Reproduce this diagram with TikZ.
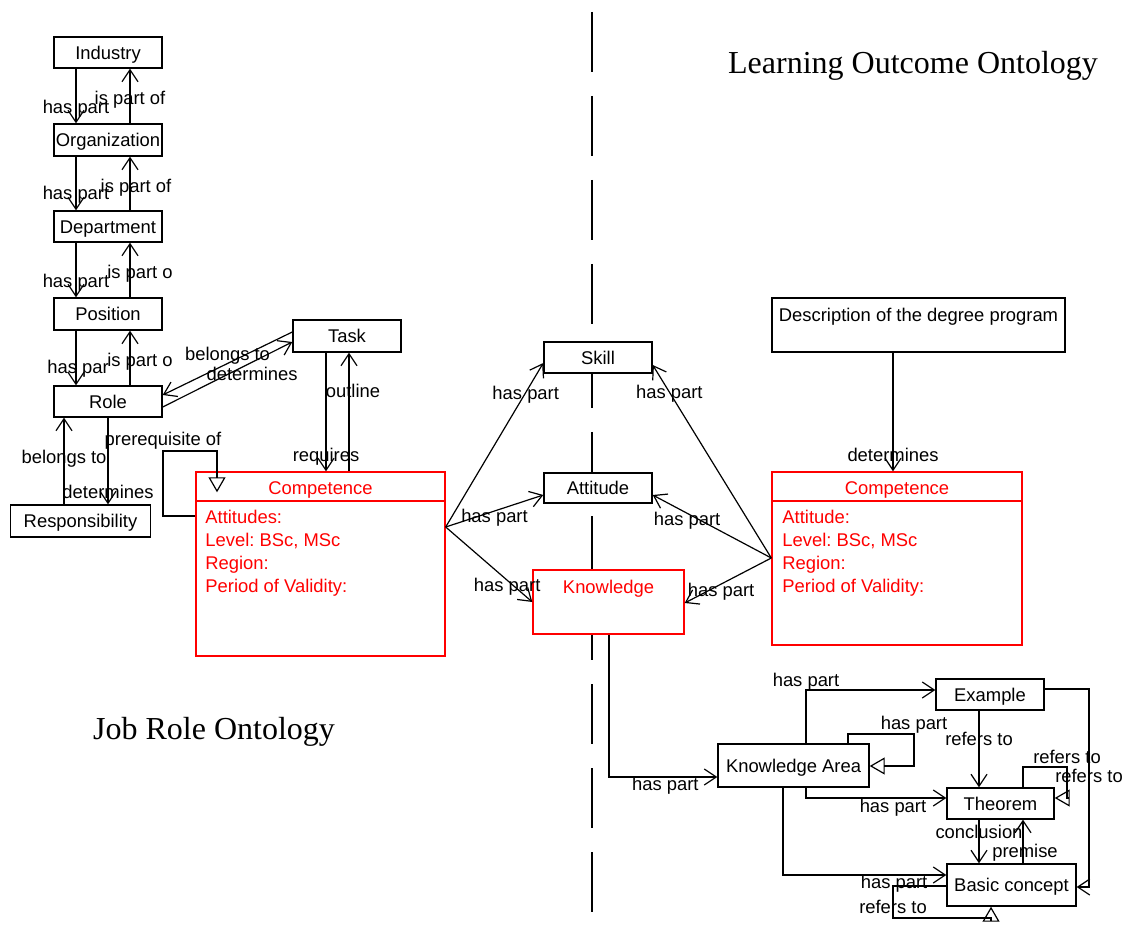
\documentclass[tikz,border=0pt]{standalone}
\usepackage{fontspec}
\setmainfont{Liberation Sans}
\newfontfamily\titlefont{Liberation Serif}
\usepackage{tikz}
\usetikzlibrary{positioning, calc, arrows.meta}
\frenchspacing

\begin{document}
\begin{tikzpicture}[
    x=0.5pt, y=-0.5pt,
    font=\fontsize{9.2}{11.5}\selectfont,
    text_fix/.style={text height=6.6pt, text depth=0pt},
    concept/.style={rectangle, draw, fill=white, line width=0.7pt, inner sep=0pt, minimum width=54pt, minimum height=15.5pt, text_fix},
    red_concept/.style={concept, draw=red, text=red},
    rel_arrow/.style={-{Straight Barb[length=6pt, width=8pt]}, line width=0.6pt},
    self_arrow/.style={-{Triangle[open, length=7.5pt, width=8.5pt]}, line width=0.6pt},
    label_style/.style={inner sep=0pt, text_fix},
    attr_style/.style={text=red, anchor=north west, align=left, inner sep=0pt},
    title_style/.style={font=\titlefont\fontsize{16}{19}\selectfont},
    divider/.style={line width=0.8pt, dash pattern=on 30pt off 12pt}
]
    \useasboundingbox (0,0) rectangle (1122,929);

    % Trennlinie zwischen den Ontologien
    \draw[divider] (592,12) -- (592,929);

    % Job Role Ontology
    \node[concept] (industry) at (108,52.5) {Industry};
    \node[concept, minimum height=16pt] (organization) at (108,140) {Organization};
    \node[concept] (department) at (108,226.5) {Department};
    \node[concept, minimum height=16pt] (position) at (108,314) {Position};
    \node[concept] (role) at (108,401.5) {Role};
    \node[concept, minimum width=70pt, minimum height=16pt] (responsibility) at (80.5,521) {Responsibility};
    \node[concept, minimum height=16pt] (task) at (347,336) {Task};

    \node[red_concept, minimum width=124.5pt, minimum height=92pt] (compL) at (320.5,564) {};
    \draw[red, line width=0.7pt] (compL.north west |- 0,501) -- (compL.north east |- 0,501);
    \node[text=red, text_fix] (compLName) at (320.5,488) {Competence};
    \node[attr_style] (compLAttr) at (205,510) {Attitudes:\\Level: BSc, MSc\\Region:\\Period of Validity:};

    % Mitte
    \node[concept] (skill) at (598,357.5) {Skill};
    \node[concept, minimum height=15pt] (attitude) at (598,488) {Attitude};
    \node[red_concept, minimum width=75.5pt, minimum height=32pt] (knowledge) at (608.5,602) {};
    \node[text=red, text_fix] (knowledgeName) at (608.5,587) {Knowledge};

    % Learning Outcome Ontology
    \node[concept, minimum width=146.5pt, minimum height=27pt] (degree) at (918.5,325) {};
    \node[text_fix] (degreeName) at (918.5,315) {Description of the degree program};
    \node[red_concept, minimum width=125pt, minimum height=86.5pt] (compR) at (897,558.5) {};
    \draw[red, line width=0.7pt] (compR.north west |- 0,501) -- (compR.north east |- 0,501);
    \node[text=red, text_fix] (compRName) at (897,488) {Competence};
    \node[attr_style] (compRAttr) at (782,510) {Attitude:\\Level: BSc, MSc\\Region:\\Period of Validity:};

    \node[concept, minimum width=75.5pt, minimum height=21.5pt] (karea) at (793.5,765.5) {Knowledge Area};
    \node[concept] (example) at (990,694.5) {Example};
    \node[concept, minimum width=53.5pt] (theorem) at (1000.5,803.5) {Theorem};
    \node[concept, minimum width=64.5pt, minimum height=21pt] (basic) at (1011.5,885) {Basic concept};

    % Titel
    \node[title_style] (learningTitle) at (913,66) {Learning Outcome Ontology};
    \node[title_style] (jobTitle) at (214,732) {Job Role Ontology};

    % has part / is part of
    \draw[rel_arrow] (industry.south -| 76,0) -- node[label_style, pos=0.7] {has part} (organization.north -| 76,0);
    \draw[rel_arrow] (organization.north -| 130,0) -- node[label_style, pos=0.46] {is part of} (industry.south -| 130,0);
    \draw[rel_arrow] (organization.south -| 76,0) -- node[label_style, pos=0.67] {has part} (department.north -| 76,0);
    \draw[rel_arrow] (department.north -| 130,0) -- node[label_style, pos=0.45, xshift=3pt] {is part of} (organization.south -| 130,0);
    \draw[rel_arrow] (department.south -| 76,0) -- node[label_style, pos=0.7] {has part} (position.north -| 76,0);
    \draw[rel_arrow] (position.north -| 130,0) -- node[label_style, pos=0.46, xshift=5pt] {is part o} (department.south -| 130,0);
    \draw[rel_arrow] (position.south -| 76,0) -- node[label_style, pos=0.66, xshift=1pt] {has par} (role.north -| 76,0);
    \draw[rel_arrow] (role.north -| 130,0) -- node[label_style, pos=0.46, xshift=5pt] {is part o} (position.south -| 130,0);

    % Role, Task, Responsibility
    \draw[rel_arrow] (task.west |- 0,332) -- node[label_style, pos=0.5, yshift=5pt] {belongs to} (role.east |- 0,395);
    \draw[rel_arrow] (role.east |- 0,407) -- node[label_style, pos=0.69, yshift=-6pt] {determines} (task.west |- 0,342);
    \draw[rel_arrow] (responsibility.north -| 64,0) -- node[label_style, pos=0.55] {belongs to} (role.south -| 64,0);
    \draw[rel_arrow] (role.south -| 108,0) -- node[label_style, pos=0.86] {determines} (responsibility.north -| 108,0);

    % Competence (Job)
    \draw[self_arrow] (compL.west |- 0,516) -| (163,451) node[label_style, above=2.5pt] {prerequisite of} -| ($(compL.north -| 217,0)+(0,21)$);
    \draw[rel_arrow] (task.south -| 326,0) -- node[label_style, pos=0.86] {requires} (compL.north -| 326,0);
    \draw[rel_arrow] (compL.north -| 349,0) -- node[label_style, pos=0.675, xshift=2pt] {outline} (task.south -| 349,0);

    % has part zu Skill, Attitude, Knowledge
    \draw[rel_arrow] (compL.east |- 0,527) -- node[label_style, pos=0.82] {has part} (skill.west |- 0,363);
    \draw[rel_arrow] (compL.east |- 0,527) -- node[label_style, pos=0.5, yshift=-2.5pt] {has part} (attitude.west |- 0,495);
    \draw[rel_arrow] (compL.east |- 0,527) -- node[label_style, pos=0.71, yshift=-2.5pt] {has part} (knowledge.west |- 0,602);
    \draw[rel_arrow] (compR.west |- 0,558) -- node[label_style, pos=0.86] {has part} (skill.east |- 0,365);
    \draw[rel_arrow] (compR.west |- 0,558) -- node[label_style, pos=0.71, yshift=-3pt] {has part} (attitude.east |- 0,495);
    \draw[rel_arrow] (compR.west |- 0,558) -- node[label_style, pos=0.58, yshift=-3pt] {has part} (knowledge.east |- 0,603);
    \draw[rel_arrow] (degree.south -| 893,0) -- node[label_style, pos=0.86] {determines} (compR.north -| 893,0);

    % Knowledge Area
    \draw[rel_arrow] (knowledge.south -| 609,0) |- node[label_style, pos=0.76, yshift=-3.5pt] {has part} (karea.west |- 0,777);
    \draw[rel_arrow] (karea.north -| 806,0) |- node[label_style, pos=0.5, above=1.5pt] {has part} (example.west |- 0,690);
    \draw[self_arrow] (karea.north -| 848,0) |- (914,734) node[label_style, above=2pt] {has part} |- (karea.east |- 0,766);
    \draw[rel_arrow] (karea.south -| 806,0) |- node[label_style, pos=0.81, yshift=-4pt] {has part} (theorem.west |- 0,798);
    \draw[rel_arrow] (karea.south -| 783,0) |- node[label_style, pos=0.84, yshift=-3.5pt] {has part} (basic.west |- 0,875);

    % refers to, conclusion, premise
    \draw[rel_arrow] (example.south -| 979,0) -- node[label_style, pos=0.37] {refers to} (theorem.north -| 979,0);
    \draw[rel_arrow] (example.east |- 0,689) -| node[label_style, pos=0.72] {refers to} (1089,887) -- (basic.east |- 0,887);
    \draw[self_arrow] (theorem.north -| 1023,0) |- (1067,767) node[label_style, above=1.5pt] {refers to} |- (theorem.east |- 0,798);
    \draw[rel_arrow] (theorem.south -| 979,0) -- node[label_style, pos=0.27] {conclusion} (basic.north -| 979,0);
    \draw[rel_arrow] (basic.north -| 1023,0) -- node[label_style, pos=0.29, xshift=1pt] {premise} (theorem.south -| 1023,0);
    \draw[self_arrow] (basic.west |- 0,886) -| node[label_style, pos=0.83] {refers to} (893,918) -| (basic.south -| 991,0);
\end{tikzpicture}
\end{document}
